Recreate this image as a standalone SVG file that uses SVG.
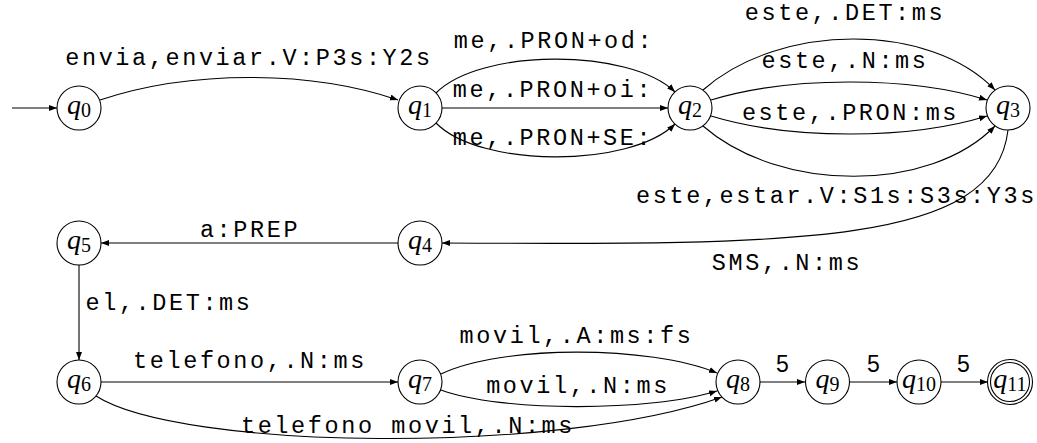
<svg xmlns="http://www.w3.org/2000/svg" width="1037" height="443" viewBox="0 0 1037 443">
<style>
.st{fill:#fff;stroke:#000;stroke-width:1.1}
.e{fill:none;stroke:#000;stroke-width:1.1;marker-end:url(#ah)}
.q{font-family:"Liberation Serif",serif;font-style:italic;font-size:28px;fill:#000}
.sub{font-style:normal;font-size:20px}
.lb{font-family:"Liberation Mono",monospace;font-size:23.5px;letter-spacing:2.6px;fill:#000;text-anchor:middle}
.n5{font-family:"Liberation Sans",sans-serif;font-size:23px;fill:#000;text-anchor:middle}
</style>
<defs>
<marker id="ah" markerUnits="userSpaceOnUse" markerWidth="9" markerHeight="7" refX="8" refY="3" orient="auto">
<path d="M0,0 L8,3 L0,6 z" fill="#000"/>
</marker>
</defs>
<rect width="1037" height="443" fill="#fff"/>
<g id="connectors">
<path class="e" d="M12,108 L57,108"/>
<path class="e" d="M100,100 C190,70 310,70 398,100"/>
<path class="e" d="M436,93 C480,48 630,48 675,92"/>
<path class="e" d="M442,108 L668,108"/>
<path class="e" d="M436,123 C480,168 630,168 675,124"/>
<path class="e" d="M703,90 C780,22 930,22 995,90"/>
<path class="e" d="M711,100 C790,76 910,76 987,100"/>
<path class="e" d="M711,116 C790,140 910,140 987,116"/>
<path class="e" d="M703,126 C780,193 930,193 995,126"/>
<path class="e" d="M1008,130 C995,245 800,245 442,243"/>
<path class="e" d="M398,243 L101,243"/>
<path class="e" d="M79,265 L79,360"/>
<path class="e" d="M101,382 L398,382"/>
<path class="e" d="M441,374 C500,345 650,345 717,373"/>
<path class="e" d="M441,390 C500,412 650,412 717,391"/>
<path class="e" d="M96,396 C180,450 560,455 722,397"/>
<path class="e" d="M760,382 L805,382"/>
<path class="e" d="M849,382 L897,382"/>
<path class="e" d="M941,382 L988,382"/>
</g>
<g id="labels">
<text class="lb" x="249" y="65">envia,enviar.V:P3s:Y2s</text>
<text class="lb" x="554" y="48">me,.PRON+od:</text>
<text class="lb" x="553" y="97">me,.PRON+oi:</text>
<text class="lb" x="553" y="145">me,.PRON+SE:</text>
<text class="lb" x="845" y="20">este,.DET:ms</text>
<text class="lb" x="845" y="68">este,.N:ms</text>
<text class="lb" x="850.5" y="120">este,.PRON:ms</text>
<text class="lb" x="836.5" y="203">este,estar.V:S1s:S3s:Y3s</text>
<text class="lb" x="787" y="270">SMS,.N:ms</text>
<text class="lb" x="250" y="237">a:PREP</text>
<text class="lb" x="169" y="310">el,.DET:ms</text>
<text class="lb" x="250" y="368">telefono,.N:ms</text>
<text class="lb" x="408" y="433">telefono movil,.N:ms</text>
<text class="lb" x="576.5" y="343">movil,.A:ms:fs</text>
<text class="lb" x="578" y="393">movil,.N:ms</text>
<text class="n5" x="782.5" y="372">5</text>
<text class="n5" x="873.5" y="372">5</text>
<text class="n5" x="963.5" y="372">5</text>
</g>
<g id="q0"><circle class="st" cx="79" cy="108" r="22"/><text class="q" x="79" y="114" text-anchor="middle">q<tspan class="sub" dy="3">0</tspan></text></g>
<g id="q1"><circle class="st" cx="420" cy="108" r="22"/><text class="q" x="420" y="114" text-anchor="middle">q<tspan class="sub" dy="3">1</tspan></text></g>
<g id="q2"><circle class="st" cx="690" cy="108" r="22"/><text class="q" x="690" y="114" text-anchor="middle">q<tspan class="sub" dy="3">2</tspan></text></g>
<g id="q3"><circle class="st" cx="1008" cy="108" r="22"/><text class="q" x="1008" y="114" text-anchor="middle">q<tspan class="sub" dy="3">3</tspan></text></g>
<g id="q4"><circle class="st" cx="420" cy="243" r="22"/><text class="q" x="420" y="249" text-anchor="middle">q<tspan class="sub" dy="3">4</tspan></text></g>
<g id="q5"><circle class="st" cx="79" cy="243" r="22"/><text class="q" x="79" y="249" text-anchor="middle">q<tspan class="sub" dy="3">5</tspan></text></g>
<g id="q6"><circle class="st" cx="79" cy="382" r="22"/><text class="q" x="79" y="388" text-anchor="middle">q<tspan class="sub" dy="3">6</tspan></text></g>
<g id="q7"><circle class="st" cx="420" cy="382" r="22"/><text class="q" x="420" y="388" text-anchor="middle">q<tspan class="sub" dy="3">7</tspan></text></g>
<g id="q8"><circle class="st" cx="738" cy="382" r="22"/><text class="q" x="738" y="388" text-anchor="middle">q<tspan class="sub" dy="3">8</tspan></text></g>
<g id="q9"><circle class="st" cx="827.5" cy="382" r="22"/><text class="q" x="827.5" y="388" text-anchor="middle">q<tspan class="sub" dy="3">9</tspan></text></g>
<g id="q10"><circle class="st" cx="919" cy="382" r="22"/><text class="q" x="919" y="388" text-anchor="middle">q<tspan class="sub" dy="3">10</tspan></text></g>
<g id="q11"><circle class="st" cx="1010" cy="382" r="22.5"/><circle class="st" cx="1010" cy="382" r="19.5"/><text class="q" x="1010" y="388" text-anchor="middle">q<tspan class="sub" dy="3">11</tspan></text></g>
</svg>
